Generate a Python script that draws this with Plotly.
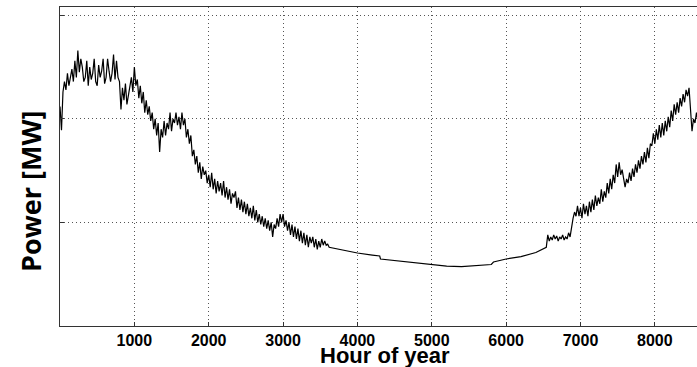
import plotly.graph_objects as go

# Winter/spring noisy segment (hours 0..3600, every 20 h)
hours_a = list(range(0, 3601, 20))
power_a = [212, 189, 226, 236, 228, 244, 232, 240, 248, 236,
           256, 240, 266, 245, 258, 250, 236, 240, 256, 232,
           250, 238, 244, 258, 236, 232, 252, 240, 246, 258,
           234, 240, 258, 246, 236, 244, 262, 238, 256, 240,
           236, 209, 230, 218, 234, 214, 222, 230, 240, 226,
           250, 232, 238, 220, 232, 215, 226, 206, 218, 204,
           212, 198, 206, 190, 200, 184, 196, 168, 190, 182,
           198, 184, 196, 190, 206, 188, 200, 196, 206, 194,
           202, 190, 206, 194, 200, 182, 190, 176, 184, 164,
           170, 156, 164, 148, 158, 142, 154, 146, 150, 138,
           146, 134, 148, 132, 142, 128, 140, 130, 138, 126,
           140, 124, 134, 122, 132, 118, 128, 124, 130, 114,
           124, 112, 122, 110, 120, 108, 118, 106, 114, 104,
           116, 102, 112, 100, 108, 98, 106, 96, 104, 94,
           102, 92, 100, 86, 98, 94, 104, 96, 108, 100,
           108, 96, 102, 92, 100, 88, 98, 86, 96, 84,
           94, 82, 92, 80, 90, 78, 88, 76, 86, 80,
           86, 76, 84, 74, 82, 76, 84, 78, 82, 78,
           79]

# Summer smooth segment
hours_b = [3620, 3800, 4000, 4200, 4300, 4310, 4500, 4750, 5000, 5200,
           5400, 5600, 5800, 5830, 6000, 6200, 6400, 6540]
power_b = [76, 73.5, 70.5, 68.5, 67.6, 64.7, 63.3, 61, 59, 57.8,
           57.3, 58, 59.4, 61.8, 64.7, 67, 71, 76]

# Autumn/winter noisy segment (hours 6560..8600, every 20 h)
hours_c = list(range(6560, 8601, 20))
power_c = [88, 82, 86, 83, 88, 84, 87, 82, 86, 84,
           88, 83, 86, 84, 90, 86, 96, 104, 110, 106,
           116, 106, 114, 104, 118, 108, 116, 106, 120, 110,
           122, 112, 126, 116, 124, 118, 132, 120, 130, 124,
           138, 128, 142, 132, 146, 138, 156, 144, 158, 146,
           151, 140, 134, 142, 138, 148, 140, 152, 144, 156,
           148, 160, 152, 164, 156, 168, 158, 172, 162, 176,
           174, 186, 176, 190, 180, 194, 182, 196, 184, 198,
           188, 202, 192, 208, 198, 214, 204, 216, 206, 220,
           212, 224, 216, 228, 222, 230, 212, 188, 200, 196,
           206, 198, 204]

hours = hours_a + hours_b + hours_c
power = power_a + power_b + power_c

x_ticks = [1000, 2000, 3000, 4000, 5000, 6000, 7000, 8000]
y_grid = [100, 200, 300]

fig = go.Figure()
fig.add_trace(go.Scatter(x=hours, y=power, mode="lines",
                         line=dict(color="black", width=1.2), hoverinfo="skip"))

grid_style = dict(showgrid=True, gridcolor="#555", griddash="1px,3px", gridwidth=1,
                  showline=True, linecolor="#333", linewidth=1, mirror=True,
                  ticks="inside", ticklen=4, tickcolor="#333", zeroline=False)

fig.update_layout(
    width=697, height=367,
    margin=dict(l=60, r=0, t=7, b=41),
    plot_bgcolor="white", paper_bgcolor="white",
    showlegend=False,
    xaxis=dict(range=[0, 8567], tickvals=x_ticks,
               tickfont=dict(family="Liberation Sans", size=16, color="black", weight="bold"),
               **grid_style),
    yaxis=dict(range=[0, 308], tickvals=y_grid, showticklabels=False, **grid_style),
    annotations=[
        dict(text="Power [MW]", xref="paper", yref="paper", x=0, y=0.42,
             xanchor="center", yanchor="middle", xshift=-30, textangle=-90,
             showarrow=False,
             font=dict(family="Open Sans", size=27, color="black", weight="bold")),
        dict(text="Hour of year", xref="paper", yref="paper", x=0.51, y=0,
             xanchor="center", yanchor="middle", yshift=-29,
             showarrow=False,
             font=dict(family="Liberation Sans", size=22, color="black", weight="bold")),
    ],
)

fig.write_html("out.html")
